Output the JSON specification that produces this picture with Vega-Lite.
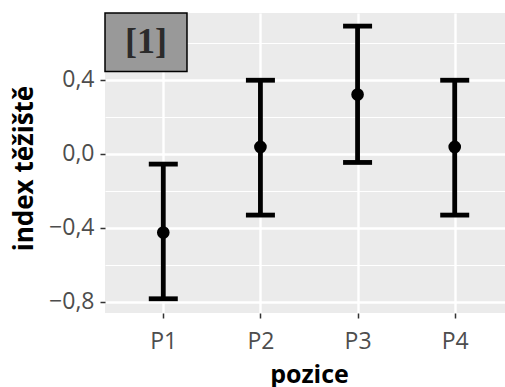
{
  "$schema": "https://vega.github.io/schema/vega-lite/v6.json",
  "width": 408,
  "height": 300,
  "autosize": {"type": "none"},
  "padding": {"left": 105, "top": 13, "right": 0, "bottom": 74},
  "background": "white",
  "config": {
    "view": {"fill": "#EBEBEB", "stroke": null},
    "font": "Open Sans"
  },
  "data": {
    "values": [
      {"pozice": "P1", "i": 1, "mean": -0.426, "lo": -0.785, "hi": -0.056},
      {"pozice": "P2", "i": 2, "mean": 0.037, "lo": -0.332, "hi": 0.398},
      {"pozice": "P3", "i": 3, "mean": 0.321, "lo": -0.047, "hi": 0.691},
      {"pozice": "P4", "i": 4, "mean": 0.037, "lo": -0.332, "hi": 0.398}
    ]
  },
  "layer": [
    {
      "mark": {"type": "rule", "color": "black", "strokeWidth": 4.8},
      "encoding": {
        "x": {
          "field": "i", "type": "quantitative",
          "scale": {"domain": [0.4, 4.6], "nice": false, "zero": false},
          "title": "pozice",
          "axis": {
            "values": [1, 2, 3, 4],
            "labelExpr": "'P' + datum.value",
            "domain": false,
            "grid": true, "gridColor": "white", "gridWidth": 2.4,
            "tickSize": 5, "tickColor": "#333333", "tickWidth": 1.5,
            "labelFont": "Open Sans", "labelFontSize": 23, "labelColor": "#4D4D4D",
            "labelBaseline": "alphabetic", "labelPadding": 30,
            "titleFont": "Open Sans", "titleFontSize": 25, "titleFontWeight": "bold", "titleColor": "black",
            "titleBaseline": "alphabetic", "titleY": 69
          }
        },
        "y": {
          "field": "lo", "type": "quantitative",
          "scale": {"domain": [-0.862, 0.762], "nice": false, "zero": false},
          "title": "index těžiště",
          "axis": {
            "values": [-0.8, -0.6, -0.4, -0.2, 0, 0.2, 0.4, 0.6],
            "labelExpr": "abs(round(datum.value*10)) % 4 == 0 ? replace(format(datum.value, '.1f'), '.', ',') : ''",
            "domain": false,
            "grid": true, "gridColor": "white",
            "gridWidth": {"condition": {"test": "abs(round(datum.value*10)) % 4 == 0", "value": 2.4}, "value": 1.2},
            "tickSize": 5, "tickColor": "#333333", "tickWidth": 1.5,
            "tickOpacity": {"condition": {"test": "abs(round(datum.value*10)) % 4 == 0", "value": 1}, "value": 0},
            "labelFont": "Open Sans", "labelFontSize": 23, "labelColor": "#4D4D4D",
            "labelPadding": 6, "labelBaseline": "middle",
            "titleFont": "Open Sans", "titleFontSize": 26, "titleFontWeight": "bold", "titleColor": "black",
            "titleBaseline": "alphabetic", "titleX": -73, "titleY": 155
          }
        },
        "y2": {"field": "hi"}
      }
    },
    {
      "mark": {"type": "tick", "orient": "horizontal", "color": "black", "size": 29, "thickness": 4.8, "opacity": 1},
      "encoding": {
        "x": {"field": "i", "type": "quantitative", "title": "pozice"},
        "y": {"field": "lo", "type": "quantitative", "title": "index těžiště"}
      }
    },
    {
      "mark": {"type": "tick", "orient": "horizontal", "color": "black", "size": 29, "thickness": 4.8, "opacity": 1},
      "encoding": {
        "x": {"field": "i", "type": "quantitative", "title": "pozice"},
        "y": {"field": "hi", "type": "quantitative", "title": "index těžiště"}
      }
    },
    {
      "mark": {"type": "circle", "color": "black", "size": 160, "opacity": 1},
      "encoding": {
        "x": {"field": "i", "type": "quantitative", "title": "pozice"},
        "y": {"field": "mean", "type": "quantitative", "title": "index těžiště"}
      }
    },
    {
      "data": {"values": [{"label": "[1]"}]},
      "layer": [
        {
          "mark": {"type": "rect", "fill": "#999999", "stroke": "black", "strokeWidth": 1.5},
          "encoding": {
            "x": {"datum": 0.4, "type": "quantitative"},
            "x2": {"datum": 1.244},
            "y": {"datum": 0.762, "type": "quantitative"},
            "y2": {"datum": 0.445}
          }
        },
        {
          "mark": {"type": "text", "font": "Liberation Serif", "fontSize": 36, "fontWeight": "bold", "color": "#2B2B2B", "align": "center", "baseline": "middle"},
          "encoding": {
            "x": {"datum": 0.823, "type": "quantitative"},
            "y": {"datum": 0.606, "type": "quantitative"},
            "text": {"field": "label"}
          }
        }
      ]
    }
  ]
}
